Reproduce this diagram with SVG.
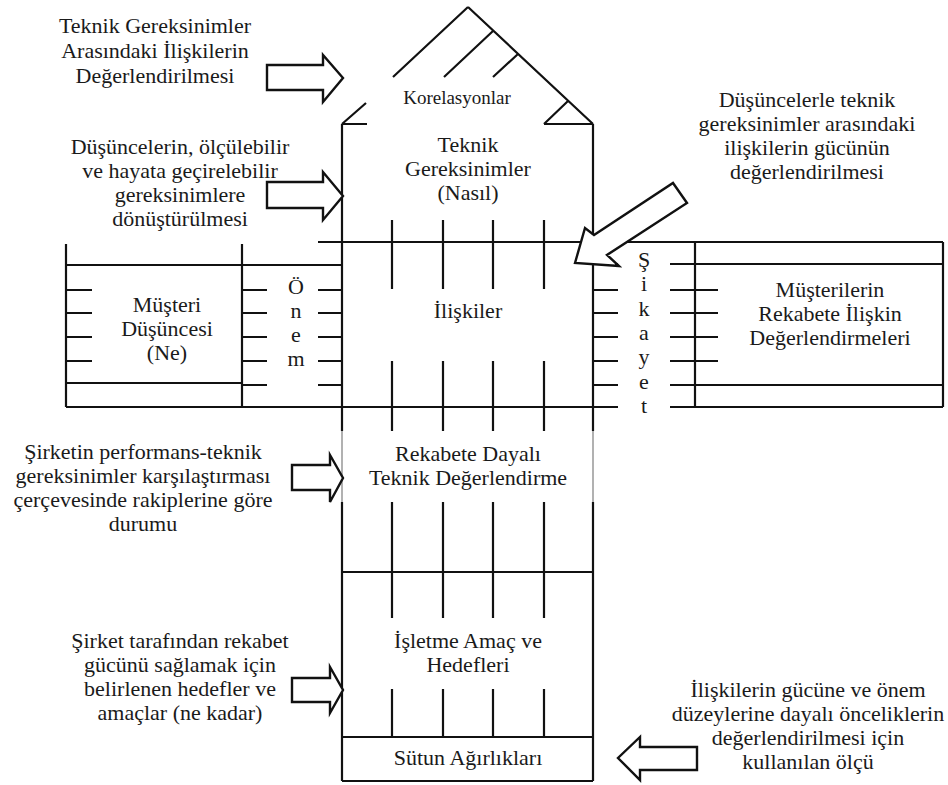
<svg xmlns="http://www.w3.org/2000/svg" width="948" height="785" viewBox="0 0 948 785" font-family="Liberation Serif, Times New Roman, serif">
<defs>
<style>
.ln{stroke:#111;stroke-width:2.2;fill:none;stroke-linecap:butt}
.lt{stroke:#888;stroke-width:1.3;fill:none}
.t{font-family:"Liberation Serif","Times New Roman",serif;font-size:22px;fill:#1a1a1a;text-anchor:middle}
.s{font-size:19px}
.ar{fill:#fff;stroke:#111;stroke-width:2.4;stroke-linejoin:miter}
</style>
</defs>
<rect width="948" height="785" fill="#fff"/>

<g id="korelasyonlar">
<path class="ln" d="M468,7 L393,77 M366,103 L342,124 M468,7 L593,124 M493,31 L444,77 M518,54 L493,77 M568,101 L544,124 M342,124 H367 M544,124 H593"/>
<text class="t s" x="457" y="104">Korelasyonlar</text>
</g>

<g id="teknik-gereksinimler">
<path class="ln" d="M342,124 V242 M593,124 V242 M392,220 V242 M443,220 V242 M493,220 V242 M544,220 V242"/>
<text class="t" x="468" y="152">Teknik</text>
<text class="t" x="468" y="176">Gereksinimler</text>
<text class="t" x="468" y="200">(Nasıl)</text>
</g>

<g id="iliskiler">
<path class="ln" d="M318,242 H693 M342,242 V431 M593,242 V431 M66,407 H618
M392,242 V289 M443,242 V289 M493,242 V289 M544,242 V289
M392,361 V431 M443,361 V431 M493,361 V431 M544,361 V431
M318,265 H342 M318,290 H342 M318,313 H342 M318,337 H342 M318,361 H342 M318,385 H342
M593,264 H618 M593,290 H618 M593,313 H618 M593,337 H618 M593,361 H618 M593,385 H618"/>
<text class="t" x="468" y="318">İlişkiler</text>
</g>

<g id="musteri-dusuncesi">
<path class="ln" d="M66,244 V407 M66,265 H342 M66,383 H242 M66,290 H92 M66,313 H92 M66,337 H92 M66,361 H92"/>
<text class="t" x="167" y="312">Müşteri</text>
<text class="t" x="167" y="336">Düşüncesi</text>
<text class="t" x="167" y="360">(Ne)</text>
</g>

<g id="onem">
<path class="ln" d="M242,244 V408 M242,290 H267 M242,313 H267 M242,337 H267 M242,361 H267 M242,385 H267"/>
<text class="t" x="296" y="294">Ö</text>
<text class="t" x="296" y="318">n</text>
<text class="t" x="296" y="342">e</text>
<text class="t" x="296" y="366">m</text>
</g>

<g id="sikayet">
<path class="ln" d="M670,264 H718 M670,290 H718 M670,313 H718 M670,337 H718 M670,361 H718 M670,385 H718 M670,407 H695"/>
<text class="t" x="644" y="267">Ş</text>
<text class="t" x="644" y="291">i</text>
<text class="t" x="644" y="316">k</text>
<text class="t" x="644" y="340">a</text>
<text class="t" x="644" y="364">y</text>
<text class="t" x="644" y="389">e</text>
<text class="t" x="644" y="413">t</text>
</g>

<g id="musterilerin-rekabete">
<path class="ln" d="M693,242 H943 M695,242 V408 M943,242 V407 M695,407 H943 M718,264 H943 M718,385 H943"/>
<text class="t" x="830" y="297">Müşterilerin</text>
<text class="t" x="830" y="321">Rekabete İlişkin</text>
<text class="t" x="830" y="345">Değerlendirmeleri</text>
</g>

<g id="rekabete-dayali">
<path class="lt" d="M342,431 V502 M593,431 V502"/>
<path class="ln" d="M342,502 V572 M593,502 V572 M342,572 H593
M392,502 V572 M443,502 V572 M493,502 V572 M544,502 V572"/>
<text class="t" x="468" y="461">Rekabete Dayalı</text>
<text class="t" x="468" y="485">Teknik Değerlendirme</text>
</g>

<g id="isletme-amac">
<path class="ln" d="M342,572 V737 M593,572 V737 M342,737 H593
M392,572 V618 M443,572 V618 M493,572 V618 M544,572 V618
M392,689 V737 M443,689 V737 M493,689 V737 M544,689 V737"/>
<text class="t" x="468" y="648">İşletme Amaç ve</text>
<text class="t" x="468" y="672">Hedefleri</text>
</g>

<g id="sutun-agirliklari">
<path class="ln" d="M342,737 V781 M593,737 V781 M342,781 H593"/>
<text class="t" x="468" y="765">Sütun Ağırlıkları</text>
</g>

<g id="note-korelasyon">
<text class="t" x="155" y="33">Teknik Gereksinimler</text>
<text class="t" x="155" y="58">Arasındaki İlişkilerin</text>
<text class="t" x="155" y="83">Değerlendirilmesi</text>
</g>
<g id="note-donusum">
<text class="t" x="180" y="154">Düşüncelerin, ölçülebilir</text>
<text class="t" x="180" y="178">ve hayata geçirelebilir</text>
<text class="t" x="180" y="202">gereksinimlere</text>
<text class="t" x="180" y="226">dönüştürülmesi</text>
</g>
<g id="note-iliski-gucu">
<text class="t" x="807" y="107">Düşüncelerle teknik</text>
<text class="t" x="807" y="131">gereksinimler arasındaki</text>
<text class="t" x="807" y="155">ilişkilerin gücünün</text>
<text class="t" x="807" y="179">değerlendirilmesi</text>
</g>
<g id="note-performans">
<text class="t" x="143" y="459">Şirketin performans-teknik</text>
<text class="t" x="143" y="483">gereksinimler karşılaştırması</text>
<text class="t" x="143" y="507">çerçevesinde rakiplerine göre</text>
<text class="t" x="143" y="531">durumu</text>
</g>
<g id="note-hedefler">
<text class="t" x="180" y="648">Şirket tarafından rekabet</text>
<text class="t" x="180" y="672">gücünü sağlamak için</text>
<text class="t" x="180" y="696">belirlenen hedefler ve</text>
<text class="t" x="180" y="720">amaçlar (ne kadar)</text>
</g>
<g id="note-olcu">
<text class="t" x="808" y="697">İlişkilerin gücüne ve önem</text>
<text class="t" x="808" y="721">düzeylerine dayalı önceliklerin</text>
<text class="t" x="808" y="745">değerlendirilmesi için</text>
<text class="t" x="808" y="769">kullanılan ölçü</text>
</g>

<g id="connectors">
<path class="ar" d="M267,65 H323 V55 L343,78 L323,102 V90 H267 Z"/>
<path class="ar" d="M267,182 H323 V172 L343,196 L323,220 V208 H267 Z"/>
<path class="ar" d="M575,263 L585,228 L594,235 L673,183 L687,203 L607,255 L619,266 Z"/>
<path class="ar" d="M292,465 H330 V455 L343,478 L330,502 V490 H292 Z"/>
<path class="ar" d="M292,678 H330 V667 L343,690 L330,713 V702 H292 Z"/>
<path class="ar" d="M697,747 H640 V737 L618,758 L640,780 V770 H697 Z"/>
</g>
</svg>
